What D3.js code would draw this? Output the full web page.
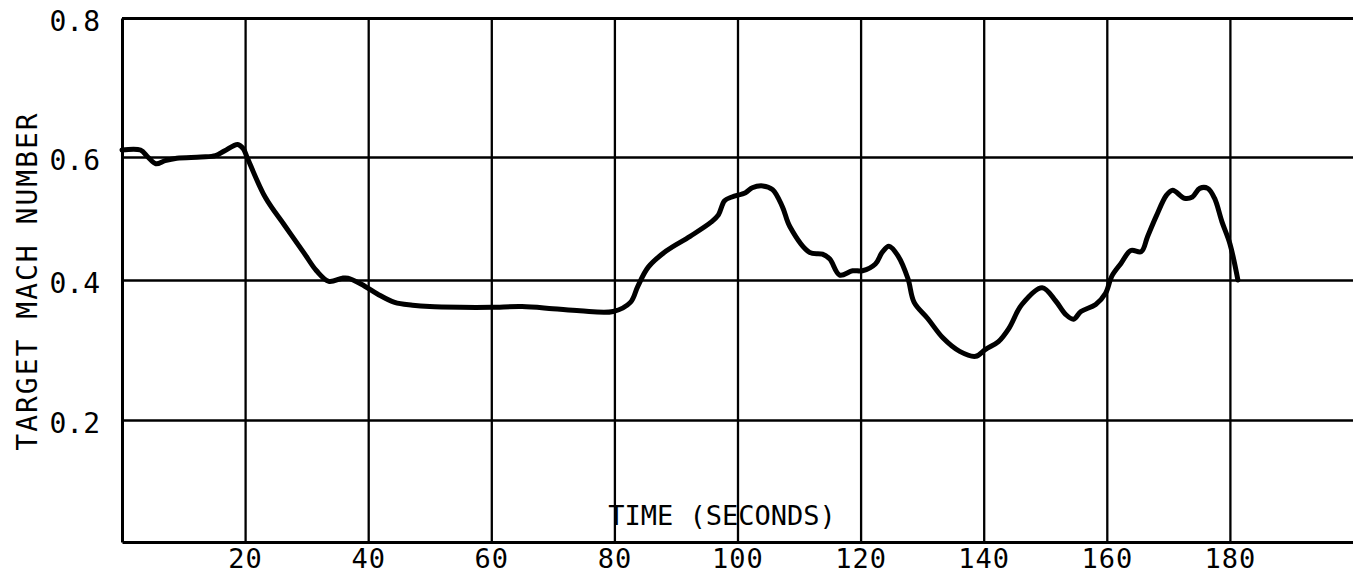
<!DOCTYPE html>
<html>
<head>
<meta charset="utf-8">
<script src="https://cdn.jsdelivr.net/npm/d3@7"></script>
<style>
  html, body { margin: 0; padding: 0; background: #fff; }
  svg { display: block; }
  .axis text { font-family: "DejaVu Sans Mono", "Liberation Mono", monospace; fill: #000; }
  .axis .domain { stroke: #000; stroke-width: 3; }
  .axis .tick line { stroke: #000; stroke-width: 2.3; }
  .title { font-family: "DejaVu Sans Mono", "Liberation Mono", monospace; fill: #000; }
</style>
</head>
<body>
<script>

// time (s) and target mach number
const timeSec = [
  0, 3.0, 4.2, 5.5, 7.0, 8.9, 12.8, 15.2, 16.7, 18.8, 19.7, 20.3,
  23.3, 26.4, 29.5, 31.6, 33.6, 35.8, 36.7, 38.9, 41.5, 44.3, 47.2,
  50, 55, 60, 65, 70, 74.4, 79.8,
  82.6, 83.8, 85.5, 88.4, 92.3, 95.7, 96.9, 97.9, 99.1, 101.3, 102.4, 104.1,
  105.7, 107.3, 108.5, 111.7, 113.8, 115.0, 116.6, 118.7, 120.3, 122.4,
  123.5, 124.6, 126.1, 127.7, 128.7, 130.9, 133.4, 136.1, 138.7, 140.3,
  142.4, 144.1, 146.2, 149.5, 151.7, 153.3, 154.6, 155.8, 158.2, 159.8,
  160.8, 162.3, 163.9, 165.6, 166.6, 168.0, 169.7, 170.7, 172.6, 173.9,
  175.1, 176.4, 177.5, 178.7, 180.0, 181.3
];
const machNumber = [
  0.61, 0.61, 0.6, 0.589, 0.594, 0.598, 0.6, 0.602, 0.609, 0.618, 0.612, 0.6,
  0.534, 0.489, 0.445, 0.415, 0.398, 0.403, 0.403, 0.394, 0.38, 0.368, 0.364,
  0.362, 0.361, 0.361, 0.362, 0.359, 0.356, 0.355,
  0.368, 0.391, 0.421, 0.447, 0.471, 0.494, 0.506, 0.529, 0.535, 0.542, 0.55, 0.553,
  0.547, 0.519, 0.487, 0.445, 0.442, 0.434, 0.408, 0.415, 0.415, 0.426,
  0.445, 0.455, 0.439, 0.402, 0.368, 0.345, 0.317, 0.298, 0.291, 0.301,
  0.312, 0.331, 0.365, 0.389, 0.37, 0.351, 0.344, 0.355, 0.365, 0.381,
  0.406, 0.427, 0.448, 0.446, 0.47, 0.503, 0.538, 0.546, 0.533, 0.535,
  0.549, 0.549, 0.533, 0.495, 0.459, 0.4
];

const xTicks = [20, 40, 60, 80, 100, 120, 140, 160, 180];
const yTicks = [0.2, 0.4, 0.6, 0.8];
const yLabels = ["0.2", "0.4", "0.6", "0.8"];

const width = 1353, height = 577;

let svg = d3.select("body").append("svg")
    .attr("width", width)
    .attr("height", height);

// paper scan: grid spacing is not quite even, so y is piecewise
let xscale = d3.scaleLinear().domain([0, 200]).range([122, 1353]);
let yscale = d3.scaleLinear()
    .domain([0, 0.2, 0.4, 0.6, 0.8])
    .range([542, 420, 280, 157, 18]);

let plotW = xscale(200) - xscale(0),
    plotH = yscale(0) - yscale(0.8);

let xAxis = d3.axisBottom(xscale)
    .tickValues(xTicks)
    .tickSize(-plotH)
    .tickSizeOuter(0)
    .tickPadding(7)
    .tickFormat(d3.format("d"));

let yAxis = d3.axisLeft(yscale)
    .tickValues(yTicks)
    .tickSize(-plotW)
    .tickSizeOuter(0)
    .tickPadding(22)
    .tickFormat((d, i) => yLabels[i]);

svg.append("g")
    .attr("class", "x axis")
    .attr("transform", "translate(0," + yscale(0) + ")")
    .call(xAxis)
    .selectAll("text")
      .style("font-size", "27px")
      .style("letter-spacing", "1px");

svg.append("g")
    .attr("class", "y axis")
    .attr("transform", "translate(" + xscale(0) + ",0)")
    .call(yAxis)
    .selectAll("text")
      .style("font-size", "28px")
      .attr("dy", "0.45em");

// the 0.8 line is the top edge of the frame
svg.select(".y.axis").selectAll(".tick line")
    .filter(d => d === 0.8)
    .style("stroke-width", 3);

let line = d3.line()
    .x(d => xscale(d[0]))
    .y(d => yscale(d[1]))
    .curve(d3.curveCatmullRom.alpha(0.5));

svg.append("path")
    .datum(d3.zip(timeSec, machNumber))
    .attr("fill", "none")
    .attr("stroke", "#000")
    .attr("stroke-width", 5)
    .attr("stroke-linejoin", "round")
    .attr("stroke-linecap", "round")
    .attr("d", line);

svg.append("text")
    .attr("class", "title")
    .attr("transform", "translate(37,281) rotate(-90)")
    .attr("text-anchor", "middle")
    .style("font-size", "28px")
    .style("letter-spacing", "2px")
    .text("TARGET MACH NUMBER");

svg.append("text")
    .attr("class", "title")
    .attr("x", 722)
    .attr("y", 525)
    .attr("text-anchor", "middle")
    .style("font-size", "27px")
    .text("TIME (SECONDS)");

</script>
</body>
</html>
